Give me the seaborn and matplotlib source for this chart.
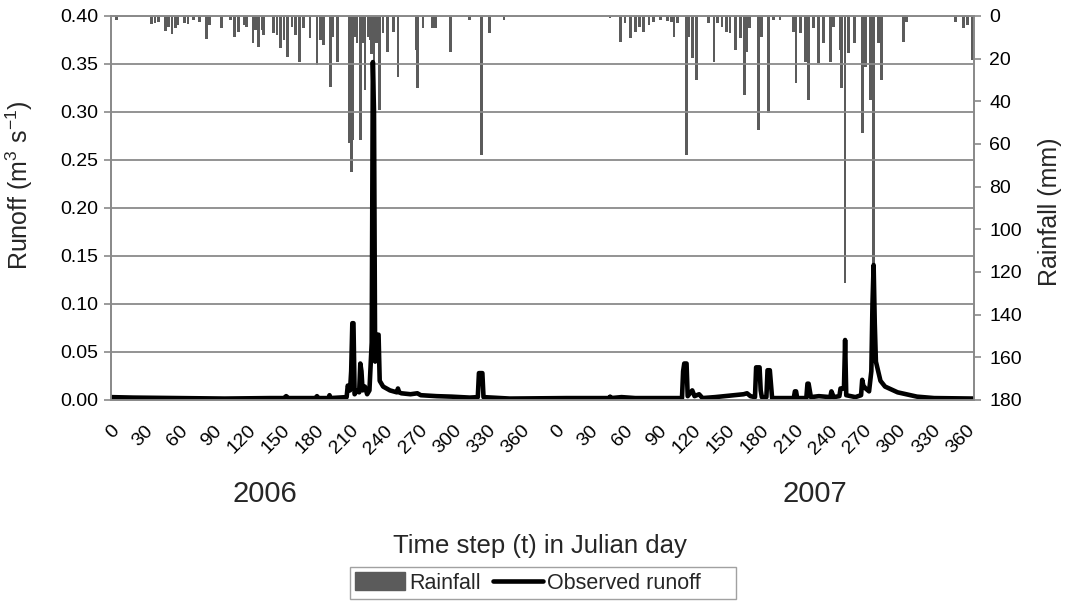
import matplotlib
matplotlib.use("Agg")
import matplotlib.pyplot as plt
import seaborn as sns
from matplotlib.patches import Patch
from matplotlib.lines import Line2D

# x axis is a running day index over the two years, one tick every 30 steps
julian_ticks = [0, 30, 60, 90, 120, 150, 180, 210, 240, 270, 300, 330, 360]
tick_labels = [str(d) for d in julian_ticks + julian_ticks]
years = ["2006", "2007"]

# daily rainfall (mm), only the wet days
rain_day = [5, 36, 39, 42, 48, 51, 54, 57, 59, 65, 68, 73, 78, 84, 87, 97, 105,
            109, 112, 117, 119, 125, 127, 130, 133, 134, 143, 146, 149, 152, 155,
            159, 162, 166, 169, 175, 181, 184, 187, 193, 195, 199, 209, 211, 212,
            214, 216, 219, 221, 223, 226, 228, 229, 231, 233, 236, 239, 243, 248,
            252, 268, 269, 274, 282, 285, 298, 315, 325, 332, 345,
            438, 447, 451, 456, 460, 464, 467, 472, 476, 482, 488, 492, 494, 497,
            505, 507, 510, 514, 524, 529, 532, 536, 540, 543, 548, 552, 556, 558,
            560, 568, 571, 577, 581, 587, 599, 601, 605, 609, 612, 616, 621, 625,
            631, 634, 640, 641, 644, 647, 652, 659, 662, 666, 669, 673, 676, 695,
            698, 741, 748, 751, 756]
rain_mm = [1.9, 3.8, 3.1, 2.7, 6.9, 5.0, 8.4, 5.8, 4.2, 3.4, 3.8, 1.9, 2.7, 10.9,
           4.2, 5.8, 1.9, 9.7, 7.3, 4.2, 5.0, 12.8, 6.6, 14.4, 6.6, 8.9, 8.1, 8.9,
           15.2, 11.3, 19.1, 5.0, 8.9, 21.4, 5.8, 10.5, 23.0, 11.3, 13.6, 33.1, 9.7,
           21.4, 59.7, 73.0, 58.0, 9.7, 12.8, 58.0, 12.8, 34.7, 9.7, 11.3, 18.0,
           25.0, 12.8, 44.0, 8.1, 16.7, 7.3, 28.4, 16.0, 33.9, 5.8, 5.8, 5.8, 16.7,
           1.9, 65.2, 8.1, 1.9,
           1.1, 12.0, 3.4, 10.5, 7.3, 5.0, 7.3, 4.2, 2.7, 1.9, 2.2, 2.7, 9.7, 3.4,
           65.2, 9.7, 19.8, 30.0, 3.4, 21.4, 3.4, 5.0, 7.3, 8.1, 15.9, 10.5, 37.0,
           16.7, 5.8, 53.4, 9.7, 45.6, 1.9, 1.9, 7.3, 31.6, 8.1, 21.4, 39.4, 5.8,
           22.2, 12.8, 21.4, 5.0, 15.9, 33.9, 125.3, 17.5, 12.8, 55.0, 23.8, 39.4,
           116.7, 12.8, 30.0, 12.0, 2.7, 2.7, 5.8, 4.2, 20.6]

# observed runoff (m3 s-1), vertices of the hydrograph
runoff_day = [0, 20, 60, 100, 140, 152, 154, 156, 180, 181, 182, 191, 192, 193,
              207, 208, 210, 211, 212, 213, 214, 216, 218, 219, 220, 221, 223, 225,
              227, 229, 230, 231, 232, 234, 235, 236, 239, 245, 251, 252, 253, 255,
              263, 269, 272, 286, 299, 315, 322, 323, 326, 327, 350,
              400, 437, 438, 439, 448, 460, 501, 502, 503, 505, 506, 510, 512, 516,
              519, 530, 555, 558, 561, 565, 566, 567, 569, 570, 571, 575, 576, 577,
              578, 580, 599, 600, 601, 602, 610, 611, 612, 614, 621, 631, 632, 634,
              639, 640, 642, 643, 644, 645, 649, 653, 658, 659, 660, 662, 665, 667,
              668, 669, 670, 671, 675, 679, 690, 707, 722, 757]
runoff_val = [0.003, 0.0025, 0.002, 0.0015, 0.002, 0.002, 0.004, 0.002, 0.002,
              0.004, 0.002, 0.002, 0.005, 0.002,
              0.003, 0.015, 0.010, 0.030, 0.080, 0.080, 0.006, 0.010, 0.008,
              0.038, 0.030, 0.010, 0.014, 0.006, 0.010, 0.060, 0.352, 0.300, 0.040,
              0.068, 0.068, 0.020, 0.014, 0.010, 0.008, 0.012, 0.008, 0.007,
              0.006, 0.007, 0.005, 0.004, 0.0035, 0.0025, 0.003, 0.028, 0.028, 0.003,
              0.0015,
              0.002, 0.002, 0.0035, 0.002, 0.003, 0.002, 0.002, 0.030, 0.038, 0.038,
              0.004, 0.010, 0.004, 0.006, 0.002, 0.003, 0.006, 0.007, 0.004, 0.003,
              0.034, 0.034, 0.034, 0.010, 0.003, 0.003, 0.031, 0.031, 0.031, 0.002,
              0.002, 0.009, 0.009, 0.002, 0.002, 0.017, 0.017, 0.003, 0.004, 0.003,
              0.009, 0.003, 0.004, 0.012, 0.012, 0.012, 0.0625, 0.005, 0.004, 0.003,
              0.005, 0.021, 0.015, 0.012, 0.009, 0.030, 0.100, 0.1406, 0.080, 0.040,
              0.020, 0.014, 0.008, 0.0035, 0.002, 0.0015]

BAR_GREY = "#5b5b5b"
AXIS_GREY = "#8a8a8a"

sns.set_theme(style="white")
plt.rcParams["font.family"] = ["Liberation Sans", "DejaVu Sans"]
plt.rcParams["mathtext.fontset"] = "custom"
plt.rcParams["mathtext.rm"] = "Liberation Sans"
plt.rcParams["mathtext.it"] = "Liberation Sans"

fig = plt.figure(figsize=(10.69, 6.01), dpi=100)
ax = fig.add_axes([110.5 / 1069, 1 - 400 / 601, 863.5 / 1069, 384 / 601])
ax2 = ax.twinx()

# rainfall hangs from the top on the inverted right axis
sns.barplot(x=rain_day, y=rain_mm, native_scale=True, ax=ax2, color=BAR_GREY,
            width=2.4, linewidth=0, saturation=1, errorbar=None)
ax2.set_ylim(180, 0)
ax2.set_yticks(range(0, 181, 20))

sns.lineplot(x=runoff_day, y=runoff_val, ax=ax, color="black", linewidth=3.3,
             solid_joinstyle="round", solid_capstyle="round")
ax.set_ylim(0, 0.40)
ax.set_yticks([0.05 * i for i in range(9)])
ax.set_yticklabels([f"{0.05 * i:.2f}" for i in range(9)])
ax.set_xlim(0, 757)
ax.set_xticks([30 * k for k in range(26)])
ax.set_xticklabels(tick_labels, rotation=45, ha="right", rotation_mode="anchor")
ax.yaxis.grid(True, color=AXIS_GREY, linewidth=1.3)
ax.xaxis.grid(False)

# runoff line on top of the rainfall bars
ax.set_zorder(ax2.get_zorder() + 1)
ax.patch.set_visible(False)

for a in (ax, ax2):
    for sp in a.spines.values():
        sp.set_color(AXIS_GREY)
        sp.set_linewidth(1.3)
    a.tick_params(colors=AXIS_GREY, labelcolor="black", labelsize=14,
                  length=5, width=1.2, direction="out")
ax.tick_params(axis="x", pad=11)
ax.tick_params(axis="y", left=True, pad=4)
ax2.tick_params(axis="y", right=True, pad=6)

ax.set_xlabel("Time step (t) in Julian day", fontsize=18.5)
ax.xaxis.set_label_coords(0.497, -0.35)
ax.set_ylabel(r"Runoff (m$^3$ s$^{-1}$)", fontsize=18)
ax.yaxis.set_label_coords(-0.088, 0.56)
ax2.set_ylabel("Rainfall (mm)", fontsize=18, rotation=90)
ax2.yaxis.set_label_coords(1.074, 0.49)
ax2.set_xlabel("")

ax.text(0.179, -0.245, years[0], transform=ax.transAxes, fontsize=21,
        ha="center", va="center")
ax.text(0.816, -0.245, years[1], transform=ax.transAxes, fontsize=21,
        ha="center", va="center")

handles = [Patch(facecolor=BAR_GREY, edgecolor=BAR_GREY),
           Line2D([0], [0], color="black", linewidth=3.3)]
leg = fig.legend(handles, ["Rainfall", "Observed runoff     "], loc="center",
                 bbox_to_anchor=(543 / 1069, 1 - 583 / 601), ncol=2,
                 fontsize=15.5, frameon=True, fancybox=False, handlelength=2.3,
                 handleheight=0.9, handletextpad=0.2, columnspacing=0.6,
                 borderpad=0.25, borderaxespad=0)
leg.get_frame().set_edgecolor(AXIS_GREY)
leg.get_frame().set_linewidth(1.0)

fig.savefig("out.png", dpi=100, facecolor="white")
